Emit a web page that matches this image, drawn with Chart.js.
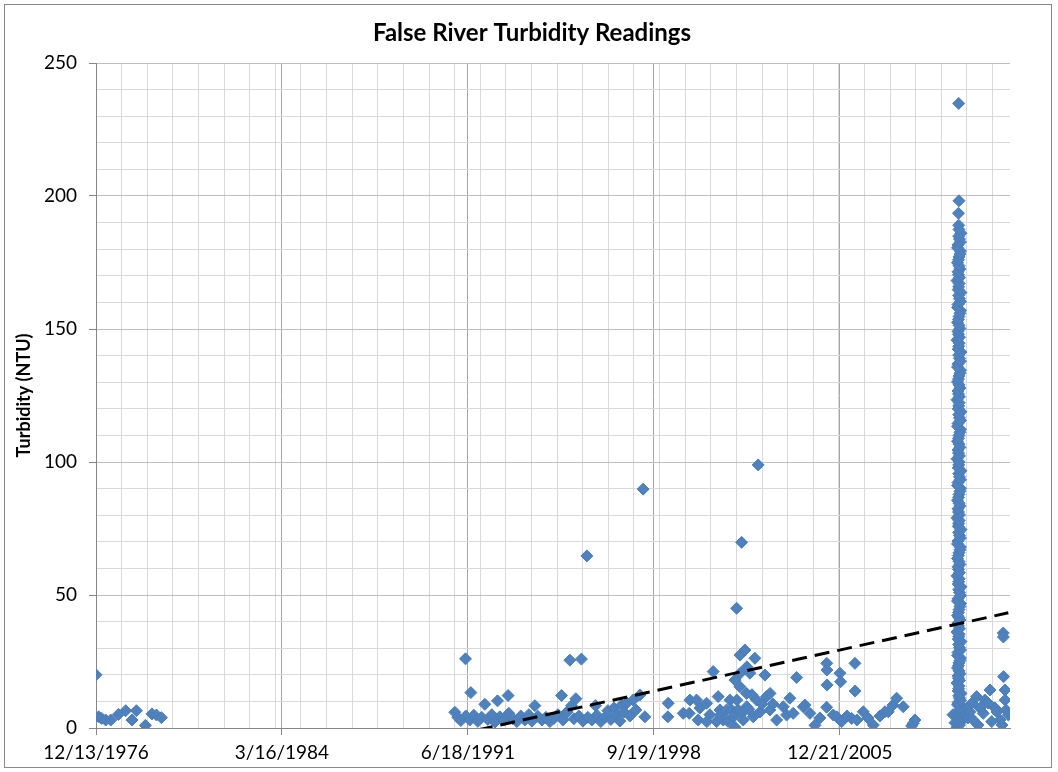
<!DOCTYPE html>
<html>
<head>
<meta charset="utf-8">
<script src="https://cdn.jsdelivr.net/npm/chart.js"></script>
<style>
  body { margin: 0; background: #fff; }
  #box { position: absolute; left: 4px; top: 4px; width: 1046px; height: 762px; border: 1px solid #8a8a8a; }
</style>
</head>
<body>
<div id="box"><canvas id="myChart"></canvas></div>
<script>
// sample dates are Excel day numbers, values are NTU
const dates1970s = [28107, 28145, 28188, 28245, 28317, 28426, 28530, 28620, 28683, 28811, 28905, 28968, 29039]
const turb1970s  = [20, 4.2, 3.6, 3.0, 3.0, 5.1, 6.5, 3.0, 6.5, 1.0, 5.3, 4.9, 3.9]

const dates1990s = [
    33220, 33262, 33305, 33372, 33376, 33433, 33448, 33490, 33547, 33604,
    33647, 33690, 33747, 33790, 33828, 33861, 33918, 33979, 33989, 34046,
    34103, 34160, 34217, 34274, 34317, 34360, 34403, 34460, 34517, 34574,
    34631, 34688, 34740, 34759, 34816, 34859, 34883, 34916, 34944, 34987,
    35023, 35044, 35101, 35115, 35172, 35225, 35243, 35300, 35357, 35400,
    35443, 35486, 35528, 35571, 35596, 35628, 35671, 35714, 35761, 35799,
    35856, 35903, 35928, 36255, 36260]
const turb1990s = [
    5.9, 4.0, 2.8, 26, 4.5, 3.0, 13.3, 4.8, 2.5, 4.0,
    8.9, 3.2, 5.0, 2.2, 10.2, 4.2, 3.0, 12.2, 5.5, 3.5,
    2.4, 4.5, 3.0, 5.0, 2.6, 8.4, 4.4, 3.0, 4.0, 2.4,
    3.6, 5.0, 12.2, 3.0, 6.0, 25.5, 8.4, 3.5, 11.0, 4.5,
    25.9, 2.6, 64.7, 4.0, 3.0, 8.4, 4.8, 2.4, 4.0, 6.5,
    3.2, 7.5, 5.0, 2.6, 8.6, 6.0, 9.4, 4.5, 10.5, 6.8,
    12.4, 89.8, 4.2, 4.2, 9.3]

const dates2000s = [
    36474, 36559, 36569, 36664, 36687, 36711, 36807, 36810, 36854, 36901,
    36950, 36972, 36997, 37003, 37044, 37092, 37111, 37139, 37163, 37186,
    37210, 37212, 37235, 37237, 37257, 37282, 37284, 37286, 37306, 37310,
    37329, 37353, 37377, 37379, 37381, 37410, 37424, 37453, 37471, 37495,
    37520, 37542, 37567, 37595, 37638, 37662, 37709, 37711, 37752, 37805,
    37899, 37947, 37994, 38041, 38090, 38184, 38208, 38279, 38351]
const turb2000s = [
    5.5, 5.5, 10.5, 10.5, 3.0, 7.5, 9.3, 2.4, 5.0, 21.2,
    2.4, 11.8, 6.8, 4.9, 3.0, 6.8, 2.5, 10.5, 6.8, 4.2,
    0.3, 18, 45, 10.5, 6.8, 15.5, 27.4, 20.6, 69.8, 5.5,
    3.0, 29.3, 13, 8, 23, 7.0, 20.6, 12.5, 4.2, 26.2,
    10.5, 98.9, 6.0, 9.0, 19.9, 11.8, 6.8, 13, 9.0, 3.0,
    8.0, 4.9, 11.2, 5.5, 19, 8.0, 8.6, 5.5, 1.0]

const datesLate = [
    38422, 38517, 38519, 38521, 38523, 38612, 38660, 38707, 38717, 38731,
    38807, 38874, 38921, 38923, 38949, 39039, 39106, 39182, 39277, 39348,
    39395, 39462, 39515, 39609, 39729, 39752, 39776]
const turbLate = [
    3.8, 7.8, 24.3, 21.8, 16.2, 4.9, 4.2, 20.6, 17.4, 2.4,
    4.5, 3.6, 24.3, 13.9, 3.0, 6.1, 3.8, 1.1, 4.5, 6.1,
    6.1, 8.6, 11.2, 8.0, 0.8, 1.8, 3.0]

// the 2010 continuous run
const datesRun = [
    40375, 40396, 40417, 40382, 40403, 40424, 40389, 40410, 40431, 40399,
    40375, 40396, 40417, 40382, 40403, 40424, 40389, 40410, 40431, 40399,
    40375, 40396, 40417, 40382, 40403, 40424, 40389, 40410, 40431, 40399,
    40375, 40396, 40417, 40382, 40403, 40424, 40389, 40410, 40431, 40399,
    40375, 40396, 40417, 40382, 40403, 40424, 40389, 40410, 40431, 40399,
    40375, 40396, 40417, 40382, 40403, 40424, 40389, 40410, 40431, 40399,
    40375, 40396, 40417, 40382, 40403, 40424, 40389, 40410, 40431, 40399,
    40375, 40396, 40417, 40382, 40403, 40424, 40389, 40410, 40431, 40399,
    40375, 40396, 40417, 40382, 40403, 40424, 40389, 40410, 40431, 40399,
    40396, 40403, 40399, 40318, 40346, 40474, 40460]
const turbRun = [
    0.3, 1.8, 3.1, 4.6, 6.2, 7.9, 9.5, 11.3, 13.0, 14.8,
    16.9, 18.7, 20.4, 22.6, 24.5, 26.3, 28.4, 30.2, 32.5, 34.3,
    36.1, 38.4, 40.6, 42.3, 44.5, 46.8, 48.6, 50.9, 53.1, 55.0,
    57.2, 59.6, 61.5, 63.7, 65.9, 68.0, 70.3, 72.4, 74.6, 76.9,
    79.0, 81.2, 83.5, 85.6, 87.8, 90.1, 92.3, 94.4, 96.7, 98.9,
    101.2, 103.4, 105.5, 107.8, 110.0, 112.3, 114.5, 116.6, 118.9, 121.1,
    123.4, 125.6, 127.8, 130.1, 132.3, 134.5, 136.8, 139.0, 141.3, 143.5,
    145.8, 148.0, 150.2, 152.5, 154.7, 157.0, 159.2, 161.4, 163.7, 165.9,
    168.2, 170.4, 172.6, 174.9, 177.1, 179.3, 181.6, 183.8, 186.0, 189.0,
    193.5, 198.2, 234.8, 5.0, 2.0, 3.5, 8.0]

const datesRun2 = [
    40410, 40389, 40403, 40396, 40417, 40382, 40424, 40399, 40392, 40406,
    40410, 40389, 40403, 40396, 40417, 40382, 40424, 40399, 40392, 40406,
    40410, 40389, 40403, 40396, 40417, 40382, 40424, 40399, 40392, 40406,
    40410, 40389, 40403, 40396, 40417, 40382, 40424, 40399, 40392, 40406,
    40410, 40389, 40403, 40396, 40417, 40382, 40424, 40399, 40392, 40406,
    40410, 40389, 40403, 40396, 40417, 40382, 40424, 40399, 40392, 40406,
    40410, 40389, 40403, 40396, 40417, 40382, 40424, 40399, 40392, 40406,
    40410, 40389, 40403, 40396, 40417, 40382, 40424, 40399, 40392, 40406,
    40410, 40389, 40403, 40396, 40417, 40382, 40424, 40399, 40403]
const turbRun2 = [
    1.1, 2.5, 3.9, 5.4, 7.0, 8.7, 10.4, 12.1, 13.9, 15.8,
    17.8, 19.5, 21.5, 23.5, 25.4, 27.3, 29.3, 31.4, 33.4, 35.2,
    37.3, 39.5, 41.5, 43.4, 45.7, 47.7, 49.8, 52.0, 54.1, 56.1,
    58.4, 60.6, 62.6, 64.8, 67.0, 69.2, 71.4, 73.5, 75.8, 78.0,
    80.1, 82.4, 84.5, 86.7, 89.0, 91.2, 93.3, 95.6, 97.8, 100.0,
    102.3, 104.5, 106.7, 108.9, 111.2, 113.4, 115.6, 117.8, 120.0, 122.3,
    124.5, 126.7, 129.0, 131.2, 133.4, 135.7, 137.9, 140.2, 142.4, 144.7,
    146.9, 149.1, 151.4, 153.6, 155.9, 158.1, 160.3, 162.6, 164.8, 167.1,
    169.3, 171.5, 173.8, 176.0, 178.2, 180.5, 182.7, 184.9, 187.4]

const dates2011 = [
    40503, 40531, 40560, 40588, 40607, 40655, 40674, 40702, 40749, 40774,
    40816, 40845, 40869, 40916, 40945, 40987, 41016, 41034, 41036, 41038,
    41059, 41061, 41073, 41106]
const turb2011 = [
    5.0, 3.8, 6.1, 9.4, 3.0, 11.8, 1.1, 7.5, 5.5, 10.5,
    9.4, 14.3, 2.4, 7.5, 6.0, 3.0, 1.1, 35.7, 34.2, 19.3,
    14.3, 10.5, 6.8, 4.9]

// linear trend, ends
const trendDates = [28107, 41106]
const trendValues = [-32.4, 43.3]

const majorTickDays = [28107, 30757, 33407, 36057, 38707]
const xTickLabels = ['12/13/1976', '3/16/1984', '6/18/1991', '9/19/1998', '12/21/2005']
const xMin = 28107
const xMax = 41130
const minorStep = 365

const allDates = [].concat(dates1970s, dates1990s, dates2000s, datesLate, datesRun, datesRun2, dates2011)
const allTurb = [].concat(turb1970s, turb1990s, turb2000s, turbLate, turbRun, turbRun2, turb2011)

const points = allDates.map((d, i) => ({x: d, y: allTurb[i]}))
const trend = trendDates.map((d, i) => ({x: d, y: trendValues[i]}))

const xTicks = [...majorTickDays]
for (let d = xMin; d < xMax; d += minorStep) {
    if (!xTicks.includes(d)) xTicks.push(d)
}
xTicks.sort((a, b) => a - b)

const isMajorX = v => majorTickDays.includes(v)
const font = 'Lato'

const myChart = document.querySelector('#myChart').getContext('2d')

const turbChart = new Chart(myChart, {
    type: 'scatter',
    data: {
        datasets: [{
            label: 'Linear trend',
            data: trend,
            showLine: true,
            borderColor: '#000',
            borderWidth: 3,
            borderDash: [15, 8],
            pointRadius: 0,
            clip: 0,
            order: 1
        }, {
            label: 'Turbidity',
            data: points,
            pointStyle: 'rectRot',
            pointRadius: 6,
            borderWidth: 1,
            backgroundColor: '#4f81bd',
            borderColor: '#4a7ebb',
            order: 2
        }]
    },
    options: {
        responsive: true,
        maintainAspectRatio: false,
        animation: false,
        events: [],
        layout: { padding: { left: 8, right: 0, top: 0, bottom: 0 } },
        plugins: {
            legend: { display: false },
            tooltip: { enabled: false },
            title: {
                display: true,
                text: 'False River Turbidity Readings',
                color: '#000',
                font: { family: font, size: 24, weight: 'bold' },
                padding: { top: 14, bottom: 15.2 }
            }
        },
        scales: {
            x: {
                type: 'linear',
                min: xMin,
                max: xMax,
                afterBuildTicks: axis => { axis.ticks = xTicks.map(v => ({value: v})) },
                afterFit: axis => { axis.height = 39 },
                grid: {
                    color: ctx => isMajorX(ctx.tick.value) ? '#a6a6a6' : '#d9d9d9',
                    tickColor: ctx => isMajorX(ctx.tick.value) ? '#868686' : 'rgba(0,0,0,0)',
                    tickLength: 7
                },
                border: { color: '#868686' },
                ticks: {
                    autoSkip: false,
                    maxRotation: 0,
                    padding: 6,
                    color: '#000',
                    font: { family: font, size: 19 },
                    callback: v => {
                        const i = majorTickDays.indexOf(v)
                        return i >= 0 ? xTickLabels[i] : ''
                    }
                }
            },
            y: {
                min: 0,
                max: 250,
                afterFit: axis => { axis.width = 83 },
                grid: {
                    color: ctx => ctx.tick.value % 50 === 0 ? '#bfbfbf' : '#d9d9d9',
                    tickColor: ctx => ctx.tick.value % 50 === 0 ? '#868686' : 'rgba(0,0,0,0)',
                    tickLength: 7
                },
                border: { color: '#868686' },
                title: {
                    display: true,
                    text: 'Turbidity (NTU)',
                    color: '#000',
                    font: { family: font, size: 18, weight: 'bold' },
                    padding: { top: 0, bottom: 0 }
                },
                ticks: {
                    stepSize: 10,
                    autoSkip: false,
                    padding: 12,
                    color: '#000',
                    font: { family: font, size: 19 },
                    callback: v => v % 50 === 0 ? v : ''
                }
            },
            // empty right-hand space so the title centres like the original
            yRight: {
                type: 'linear',
                position: 'right',
                min: 0,
                max: 1,
                afterFit: axis => { axis.width = 41 },
                grid: { display: false },
                border: { display: false },
                ticks: { display: false }
            }
        }
    }
})
</script>
</body>
</html>
